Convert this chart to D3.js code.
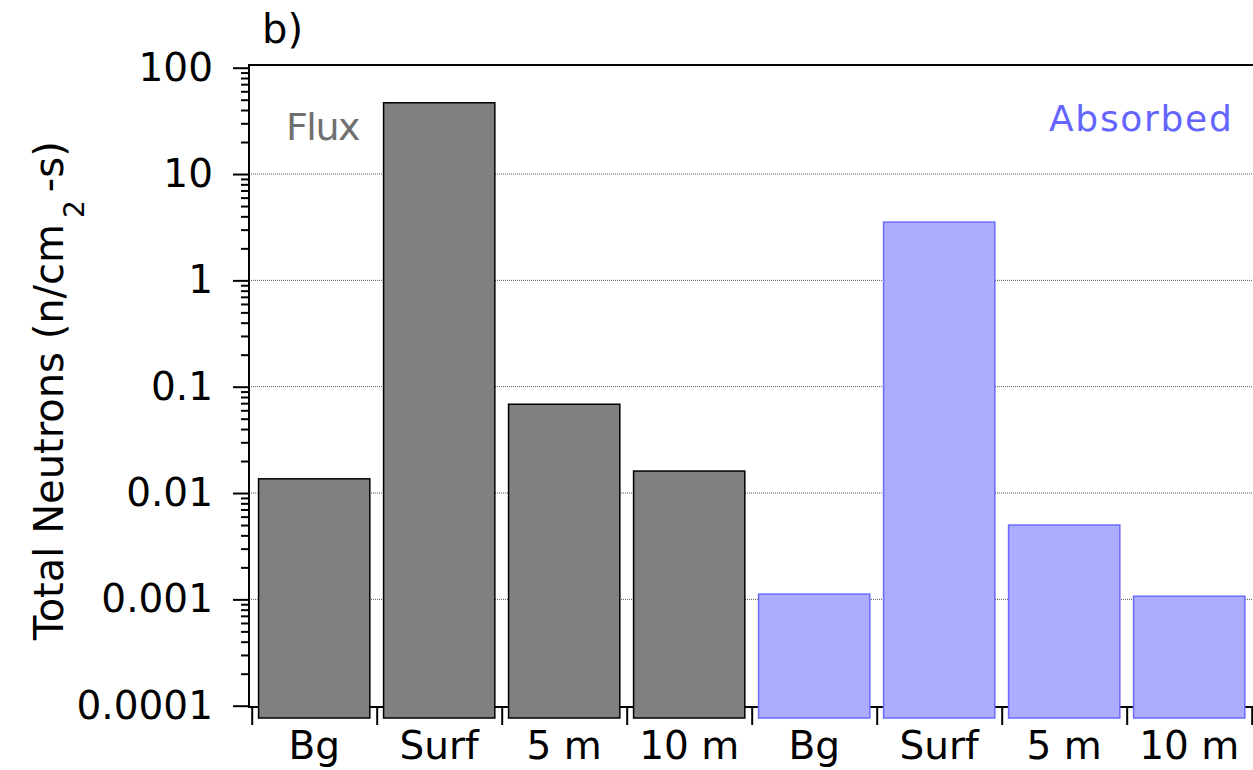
<!DOCTYPE html>
<html>
<head>
<meta charset="utf-8">
<script src="https://cdn.jsdelivr.net/npm/d3@7"></script>
<style>
  html, body { margin: 0; padding: 0; background: #fff; }
  svg { display: block; font-family: "DejaVu Sans", Verdana, sans-serif; }
</style>
</head>
<body>
<svg id="chart" width="1253" height="770"></svg>
<script>
// ---- data ----
const categories = ["Bg", "Surf", "5 m", "10 m"];
const groups = ["Flux", "Absorbed"];
const fluxValues = [0.0136, 46.8, 0.0684, 0.0161];
const absorbedValues = [0.00112, 3.53, 0.0050, 0.00107];
const yTickValues = [0.0001, 0.001, 0.01, 0.1, 1, 10, 100];
const yTickLabels = ["0.0001", "0.001", "0.01", "0.1", "1", "10", "100"];
const gridValues = [0.001, 0.01, 0.1, 1, 10];
const barBaseValue = 7.66e-5;

// ---- layout ----
const svg = d3.select("#chart");
const frame = { left: 249, right: 1253, top: 65, bottom: 707 };

const barData = [];
fluxValues.forEach((v, i) => barData.push({ key: "f" + i, cat: categories[i], group: "Flux", value: v }));
absorbedValues.forEach((v, i) => barData.push({ key: "a" + i, cat: categories[i], group: "Absorbed", value: v }));

const x = d3.scaleBand()
  .domain(barData.map(d => d.key))
  .range([251.7, 1251.7])
  .paddingInner(0.11)
  .paddingOuter(0.055);

const xEdges = d3.scaleLinear().domain([0, barData.length]).range([251.7, 1251.7]);

const y = d3.scaleLog()
  .domain([1e-4, 100])
  .range([705.7, 67.7]);

// grid lines
svg.append("g").selectAll("line")
  .data(gridValues)
  .join("line")
  .attr("x1", frame.left).attr("x2", frame.right)
  .attr("y1", d => y(d)).attr("y2", d => y(d))
  .attr("stroke", "#555")
  .attr("stroke-width", 1)
  .attr("stroke-dasharray", "1,1");

// frame lines (top, bottom)
svg.append("line")
  .attr("x1", frame.left - 1).attr("x2", frame.right)
  .attr("y1", frame.top).attr("y2", frame.top)
  .attr("stroke", "#000").attr("stroke-width", 2);
svg.append("line")
  .attr("x1", frame.left - 1).attr("x2", frame.right)
  .attr("y1", frame.bottom).attr("y2", frame.bottom)
  .attr("stroke", "#000").attr("stroke-width", 2);

// x boundary ticks
const xTickAxis = d3.axisBottom(xEdges)
  .tickValues(d3.range(0, barData.length + 1))
  .tickSize(18)
  .tickFormat("");
const gxt = svg.append("g")
  .attr("transform", `translate(0,${frame.bottom})`)
  .call(xTickAxis);
gxt.select(".domain").remove();
gxt.selectAll(".tick line").attr("stroke", "#000").attr("stroke-width", 2);

// bars
const styles = {
  Flux: { fill: "#808080", stroke: "#000" },
  Absorbed: { fill: "#adadff", stroke: "#6b6bff" }
};
svg.append("g").selectAll("rect")
  .data(barData)
  .join("rect")
  .attr("x", d => x(d.key))
  .attr("width", x.bandwidth())
  .attr("y", d => y(d.value))
  .attr("height", d => y(barBaseValue) - y(d.value))
  .attr("fill", d => styles[d.group].fill)
  .attr("stroke", d => styles[d.group].stroke)
  .attr("stroke-width", 1.5);

// category labels
const labelAxis = d3.axisBottom(x)
  .tickSize(0)
  .tickPadding(0)
  .tickFormat(k => barData.find(d => d.key === k).cat);
const gxl = svg.append("g")
  .attr("transform", `translate(0,${frame.bottom})`)
  .call(labelAxis);
gxl.select(".domain").remove();
gxl.selectAll(".tick text")
  .attr("font-family", "DejaVu Sans, Verdana, sans-serif")
  .attr("font-size", 39)
  .attr("fill", "#000")
  .attr("dy", 0)
  .attr("y", 52);

// y axis: minor ticks
const minorTicks = y.ticks().filter(v => !yTickValues.some(t => Math.abs(Math.log10(v) - Math.log10(t)) < 1e-9));
const yMinor = d3.axisLeft(y).tickValues(minorTicks).tickSize(8).tickFormat("");
const gym = svg.append("g").attr("transform", `translate(${frame.left},0)`).call(yMinor);
gym.select(".domain").remove();
gym.selectAll(".tick line").attr("stroke", "#000").attr("stroke-width", 2);

// y axis: major ticks
const yMajor = d3.axisLeft(y)
  .tickValues(yTickValues)
  .tickSize(16)
  .tickPadding(20)
  .tickFormat((d, i) => yTickLabels[i]);
const gyM = svg.append("g").attr("transform", `translate(${frame.left},0)`).call(yMajor);
gyM.select(".domain").remove();
gyM.selectAll(".tick line").attr("stroke", "#000").attr("stroke-width", 2);
gyM.selectAll(".tick text")
  .attr("font-family", "DejaVu Sans, Verdana, sans-serif")
  .attr("font-size", 39)
  .attr("fill", "#000");

// left axis line
svg.append("line")
  .attr("x1", frame.left).attr("x2", frame.left)
  .attr("y1", frame.top - 1).attr("y2", frame.bottom + 1)
  .attr("stroke", "#000").attr("stroke-width", 2);

// y axis title
const yt = svg.append("text")
  .attr("transform", "translate(63,640) rotate(-90)")
  .attr("font-size", 40)
  .attr("fill", "#000")
  .attr("text-anchor", "start");
yt.append("tspan").text("Total Neutrons (n/cm");
yt.append("tspan").attr("font-size", 28).attr("dx", 6).attr("dy", 21).text("2");
yt.append("tspan").attr("dx", 8).attr("dy", -21).text("-s)");

// panel label
svg.append("text")
  .attr("x", 262).attr("y", 43)
  .attr("font-size", 40)
  .attr("fill", "#000")
  .text("b)");

// group labels
svg.append("text")
  .attr("x", 286).attr("y", 140)
  .attr("font-size", 38)
  .attr("letter-spacing", -1.5)
  .attr("fill", "#707070")
  .text(groups[0]);
svg.append("text")
  .attr("x", 1049).attr("y", 131)
  .attr("font-size", 36)
  .attr("letter-spacing", 1.7)
  .attr("fill", "#6464ff")
  .text(groups[1]);
</script>
</body>
</html>
